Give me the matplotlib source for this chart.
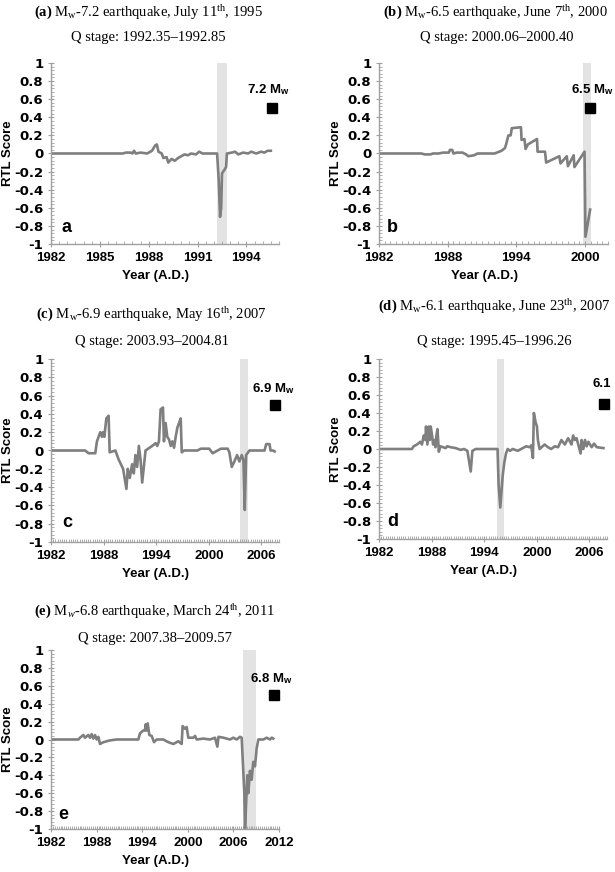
import matplotlib
matplotlib.use("Agg")
import matplotlib.pyplot as plt
from matplotlib.ticker import MultipleLocator

plt.rcParams['font.family'] = ['Liberation Sans', 'DejaVu Sans']
plt.rcParams['mathtext.fontset'] = 'custom'
plt.rcParams['mathtext.rm'] = 'Liberation Serif'
plt.rcParams['mathtext.it'] = 'Liberation Serif:italic'
plt.rcParams['mathtext.bf'] = 'Liberation Sans:bold'
plt.rcParams['mathtext.sf'] = 'Liberation Serif:bold'

# ---------------- data ----------------
years_a = [1982.0, 1986.4, 1986.6, 1986.9, 1987.0, 1987.1, 1987.2, 1987.5, 1987.9, 1988.2, 1988.4,
           1988.5, 1988.6, 1988.8, 1988.9, 1989.1, 1989.2, 1989.4, 1989.6, 1989.8, 1990.0, 1990.2,
           1990.4, 1990.6, 1990.9, 1991.1, 1991.3, 1991.7, 1992.2, 1992.3, 1992.38, 1992.45, 1992.5,
           1992.65, 1992.75, 1992.8, 1993.1, 1993.3, 1993.5, 1993.8, 1994.1, 1994.3, 1994.6, 1994.9,
           1995.1, 1995.3, 1995.5]
rtl_a = [0, 0, 0.01, 0.01, 0.0, 0.03, 0.0, 0.01, 0.0, 0.03, 0.09,
         0.1, 0.02, 0.0, -0.05, -0.04, -0.1, -0.06, -0.08, -0.05, -0.03, -0.01,
         -0.02, 0.0, -0.01, 0.02, 0.0, 0.0, 0.0, -0.3, -0.7, -0.6, -0.22,
         -0.18, -0.15, 0.0, 0.01, 0.02, -0.01, 0.01, 0.0, 0.02, 0.0, 0.02,
         0.01, 0.03, 0.03]

years_b = [1982.0, 1985.7, 1986.0, 1986.5, 1986.7, 1987.2, 1987.6, 1988.1, 1988.2, 1988.4, 1988.5,
           1988.8, 1989.3, 1989.6, 1989.8, 1990.3, 1990.6, 1992.1, 1992.5, 1992.7, 1993.0, 1993.1,
           1993.3, 1993.5, 1993.6, 1994.4, 1994.45, 1994.7, 1994.8, 1995.0, 1995.8, 1995.85, 1996.5,
           1996.6, 1997.75, 1997.85, 1998.4, 1998.5, 1999.0, 1999.07, 1999.95, 2000.03, 2000.44]
rtl_b = [0, 0, -0.01, -0.01, 0.0, 0.0, 0.01, 0.01, 0.04, 0.04, 0.0,
         0.01, 0.01, -0.01, -0.03, -0.02, 0.0, 0.0, 0.02, 0.03, 0.06, 0.1,
         0.2, 0.2, 0.28, 0.29, 0.15, 0.16, 0.05, 0.1, 0.16, 0.02, 0.02,
         -0.1, -0.03, -0.11, -0.03, -0.14, -0.02, -0.15, 0.02, -0.92, -0.62]

years_c = [1982.0, 1985.9, 1986.28, 1987.05, 1987.24, 1987.62, 1987.81, 1987.93, 1988.08, 1988.31,
           1988.57, 1988.69, 1989.34, 1989.72, 1990.22, 1990.6, 1990.75, 1990.98, 1991.25, 1991.44,
           1991.63, 1991.82, 1992.02, 1992.21, 1992.4, 1992.78, 1993.54, 1993.93, 1994.12, 1994.31,
           1994.5, 1994.77, 1994.88, 1995.07, 1995.26, 1995.46, 1995.65, 1995.84, 1996.03, 1996.22,
           1996.41, 1996.6, 1996.79, 1996.91, 1997.18, 1998.7, 1999.09, 2000.04, 2000.43, 2001.0,
           2001.38, 2002.15, 2002.34, 2002.61, 2002.91, 2003.22, 2003.48, 2003.75, 2003.94, 2004.1,
           2004.25, 2004.63, 2006.35, 2006.54, 2006.92, 2007.04, 2007.31, 2007.5]
rtl_c = [0, 0, -0.03, -0.03, 0.1, 0.2, 0.15, 0.2, 0.15, 0.35,
         0.38, -0.02, 0.0, -0.1, -0.2, -0.42, -0.2, -0.3, -0.15, -0.25,
         -0.05, -0.18, 0.05, -0.1, -0.35, 0.0, 0.05, 0.08, 0.05, 0.1,
         0.45, 0.47, 0.1, 0.3, 0.15, 0.12, 0.05, 0.1, 0.03, 0.15,
         0.25, 0.3, 0.35, -0.02, 0.0, 0.0, 0.02, 0.02, -0.03, 0.0,
         0.02, 0.02, -0.02, -0.18, -0.12, -0.05, -0.12, -0.05, -0.1, -0.65,
         -0.05, 0.0, 0.0, 0.07, 0.07, 0.0, 0.0, -0.01]

years_d = [1982.0, 1985.75, 1985.95, 1986.33, 1986.71, 1986.9, 1987.1, 1987.29, 1987.36, 1987.52,
           1987.67, 1987.79, 1987.9, 1988.05, 1988.17, 1988.32, 1988.44, 1988.55, 1988.67, 1988.82,
           1989.01, 1989.59, 1989.78, 1990.16, 1990.74, 1991.31, 1991.69, 1992.08, 1992.46, 1992.65,
           1993.03, 1995.52, 1995.64, 1995.83, 1996.1, 1996.29, 1996.48, 1996.67, 1996.94, 1997.25,
           1997.82, 1998.4, 1998.78, 1999.16, 1999.36, 1999.55, 1999.66, 1999.85, 2000.01, 2000.12,
           2000.31, 2000.89, 2001.26, 2001.64, 2002.04, 2002.42, 2002.8, 2003.19, 2003.57, 2003.95,
           2004.14, 2004.34, 2004.53, 2004.72, 2004.99, 2005.1, 2005.3, 2005.49, 2005.68, 2005.87,
           2006.25, 2006.52, 2006.83, 2007.59]
rtl_d = [0, 0, 0.03, 0.05, 0.08, 0.05, 0.15, 0.1, 0.25, 0.05,
         0.25, 0.1, 0.25, 0.15, 0.05, 0.1, 0.02, 0.15, 0.22, -0.03,
         0.03, 0.01, 0.03, 0.02, 0.01, -0.01, 0.0, -0.02, -0.25, -0.02,
         0.0, 0.0, -0.4, -0.65, -0.3, -0.15, -0.05, 0.0, -0.02, 0.0,
         -0.02, 0.01, 0.03, 0.02, 0.04, -0.1, 0.4, 0.3, 0.25, 0.1,
         0.0, 0.05, 0.02, 0.0, 0.03, 0.02, 0.1, 0.05, 0.12, 0.05,
         0.15, 0.1, 0.12, 0.05, -0.05, 0.1, 0.0, 0.1, 0.03, 0.08,
         0.02, 0.06, 0.02, 0.01]

years_e = [1982.0, 1985.6, 1985.82, 1986.25, 1986.47, 1986.91, 1987.13, 1987.35, 1987.57, 1987.79,
           1988.01, 1988.23, 1988.45, 1988.89, 1989.76, 1990.64, 1993.49, 1993.71, 1994.15, 1994.37,
           1994.46, 1994.59, 1994.72, 1994.94, 1995.25, 1995.55, 1995.9, 1996.78, 1997.44, 1998.1,
           1998.75, 1999.19, 1999.32, 1999.63, 1999.85, 2000.07, 2000.73, 2000.95, 2001.17, 2002.04,
           2002.92, 2003.58, 2003.89, 2004.04, 2004.68, 2005.55, 2005.99, 2006.43, 2006.87, 2007.09,
           2007.44, 2007.53, 2007.83, 2007.96, 2008.18, 2008.4, 2008.61, 2008.84, 2009.06, 2009.28,
           2009.94, 2010.38, 2010.82, 2011.04, 2011.25]
rtl_e = [0, 0, 0.02, 0.05, 0.02, 0.05, 0.02, 0.06, 0.01, 0.05,
         0.0, 0.03, -0.05, -0.03, -0.01, 0.0, 0.0, 0.07, 0.1, 0.1,
         0.17, 0.1, 0.18, 0.05, 0.04, -0.03, 0.0, 0.0, -0.03, -0.05,
         -0.02, -0.05, 0.15, 0.12, 0.14, 0.02, 0.02, 0.04, 0.0, 0.01,
         0.0, 0.02, -0.08, 0.03, 0.02, 0.0, 0.02, 0.0, 0.03, 0.02,
         -0.6, -1.0, -0.4, -0.6, -0.35, -0.45, -0.25, -0.3, -0.1, 0.0,
         0.0, 0.02, 0.0, 0.02, 0.01]

panel_letters = ['a', 'b', 'c', 'd', 'e']
titles = [
    r"$\mathsf{(a)}$ M$_{\mathrm{w}}$-7.2 earthquake, July 11$^{\mathrm{th}}$, 1995",
    r"$\mathsf{(b)}$ M$_{\mathrm{w}}$-6.5 earthquake, June 7$^{\mathrm{th}}$, 2000",
    r"$\mathsf{(c)}$ M$_{\mathrm{w}}$-6.9 earthquake, May 16$^{\mathrm{th}}$, 2007",
    r"$\mathsf{(d)}$ M$_{\mathrm{w}}$-6.1 earthquake, June 23$^{\mathrm{th}}$, 2007",
    r"$\mathsf{(e)}$ M$_{\mathit{w}}$-6.8 earthquake, March 24$^{\mathrm{th}}$, 2011",
]
q_stages = ["Q stage: 1992.35\u20131992.85", "Q stage: 2000.06\u20132000.40",
            "Q stage: 2003.93\u20132004.81", "Q stage: 1995.45\u20131996.26",
            "Q stage: 2007.38\u20132009.57"]
bands = [(1992.2, 1992.8), (1999.8, 2000.5), (2003.6, 2004.5), (1995.45, 1996.2), (2007.3, 2009.0)]
quake_year = [1995.6, 2000.47, 2007.57, 2007.7, 2011.3]
quake_y = [0.5, 0.5, 0.5, 0.5, 0.5]
quake_labels = [r"7.2 M$_{\mathbf{w}}$", r"6.5 M$_{\mathbf{w}}$", r"6.9 M$_{\mathbf{w}}$", "6.1",
                r"6.8 M$_{\mathbf{w}}$"]
label_pos = [(1995.35, 0.71), (2000.6, 0.71), (2007.3, 0.68), (2007.45, 0.72), (2011.0, 0.68)]
xlims = [(1982, 1996), (1982, 2002), (1982, 2008), (1982, 2008), (1982, 2012)]
xticks = [[1982, 1985, 1988, 1991, 1994], [1982, 1988, 1994, 2000],
          [1982, 1988, 1994, 2000, 2006], [1982, 1988, 1994, 2000, 2006],
          [1982, 1988, 1994, 2000, 2006, 2012]]
xminor = [0.5, 0.5, 0.25, 0.25, 0.25]
yticks = [-1, -0.8, -0.6, -0.4, -0.2, 0, 0.2, 0.4, 0.6, 0.8, 1]
ytick_labels = ['-1', '-0.8', '-0.6', '-0.4', '-0.2', '0', '0.2', '0.4', '0.6', '0.8', '1']

series_x = [years_a, years_b, years_c, years_d, years_e]
series_y = [rtl_a, rtl_b, rtl_c, rtl_d, rtl_e]

# ---------------- layout (pixels) ----------------
W, H = 615, 872
axes_px = [(51, 63, 228, 181), (379, 63, 229, 181), (51, 359, 228, 183),
           (379, 359, 228, 180), (51, 650, 228, 179)]
title_px = [((148, 13), (148, 37)), ((495, 13), (497, 37)), ((151, 315), (152, 341)),
            ((494, 307), (494, 342)), ((155, 612), (155, 638))]
letter_pos = [(0.07, 0.09), (0.06, 0.09), (0.07, 0.105), (0.06, 0.10), (0.055, 0.08)]

fig = plt.figure(figsize=(W / 100, H / 100), dpi=100)
spine_col = '#a0a0a0'
line_col = '#7f7f7f'

for i in range(5):
    l, t, w, h = axes_px[i]
    ax = fig.add_axes([l / W, 1 - (t + h) / H, w / W, h / H])
    ax.axvspan(bands[i][0], bands[i][1], color='#e3e3e3', lw=0, zorder=0)
    ax.plot(series_x[i], series_y[i], color=line_col, lw=1.9, zorder=2)
    ax.plot([quake_year[i]], [quake_y[i]], marker='s', ms=7.5, color='black', ls='none',
            zorder=3, clip_on=False)
    ax.text(label_pos[i][0], label_pos[i][1], quake_labels[i], ha='center', va='center',
            fontsize=9.5, fontweight='bold')
    ax.text(letter_pos[i][0], letter_pos[i][1], panel_letters[i], transform=ax.transAxes,
            ha='center', va='center', fontsize=13, fontweight='bold')
    ax.set_xlim(*xlims[i])
    ax.set_ylim(-1, 1)
    ax.set_xticks(xticks[i])
    ax.set_xticklabels([str(v) for v in xticks[i]])
    ax.xaxis.set_minor_locator(MultipleLocator(xminor[i]))
    ax.set_yticks(yticks)
    ax.set_yticklabels(ytick_labels)
    ax.yaxis.set_minor_locator(MultipleLocator(0.04))
    for s in ['top', 'right']:
        ax.spines[s].set_visible(False)
    for s in ['left', 'bottom']:
        ax.spines[s].set_color(spine_col)
        ax.spines[s].set_linewidth(1.0)
    ax.tick_params(which='major', direction='inout', length=5, width=0.8, color=spine_col,
                   labelsize=9.5, pad=3)
    ax.tick_params(which='minor', direction='in', length=2.5, width=0.6, color=spine_col)
    for lab in ax.get_xticklabels():
        lab.set_fontweight('bold')
    for lab in ax.get_yticklabels():
        lab.set_fontweight('bold')
        lab.set_family('DejaVu Sans')
        lab.set_fontsize(9.5)
    ax.set_ylabel('RTL Score', fontsize=9.5, fontweight='bold')
    ax.yaxis.set_label_coords(-37 / w, 0.5)
    ax.set_xlabel('Year (A.D.)', fontsize=9.5, fontweight='bold')
    ax.xaxis.set_label_coords(0.46, -26 / h)
    ax.patch.set_alpha(0)

    (x1, y1), (x2, y2) = title_px[i]
    fig.text(x1 / W, 1 - y1 / H, titles[i], ha='center', va='center', fontsize=10.5,
             family='Liberation Serif')
    fig.text(x2 / W, 1 - y2 / H, q_stages[i], ha='center', va='center', fontsize=10.5,
             family='Liberation Serif')

fig.savefig('out.png', dpi=100, facecolor='white')
